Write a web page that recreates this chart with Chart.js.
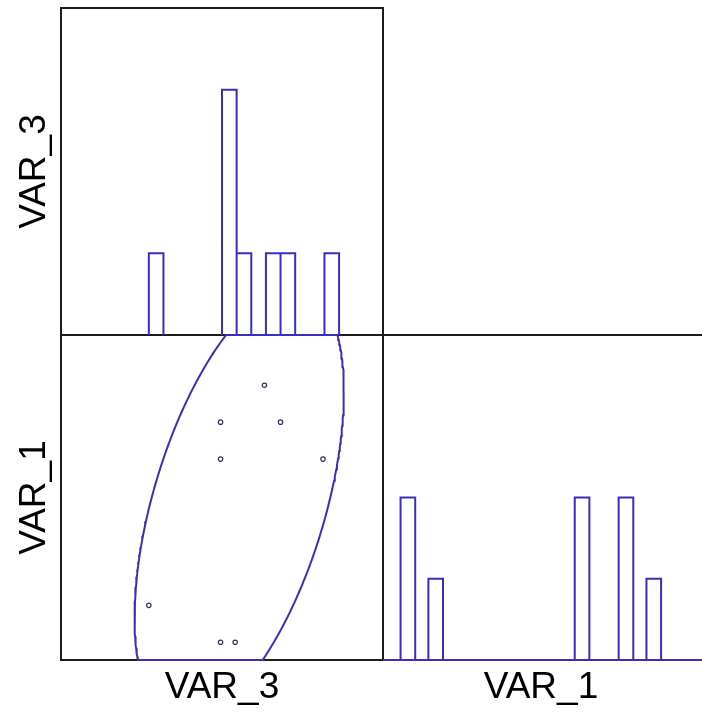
<!DOCTYPE html>
<html>
<head>
<meta charset="utf-8">
<script src="https://cdn.jsdelivr.net/npm/chart.js@4.4.0/dist/chart.umd.min.js"></script>
<style>
  html, body { margin: 0; padding: 0; background: #fff; }
  #wrap { position: relative; width: 702px; height: 714px; }
</style>
</head>
<body>
<div id="wrap"><canvas id="myChart" width="702" height="714"></canvas></div>
<script>
// values (no ticks in the original, so units are
// arbitrary: each panel runs 0..22 along a variable, 0..4 for counts)
const var3 = [6.0, 10.9, 10.9, 10.9, 11.9, 13.9, 15.0, 17.9];
const var1 = [3.7, 16.1, 13.6, 1.2, 1.2, 18.6, 16.1, 13.6];

// histogram bins: left edge of each bar and its count
const var3BinStart = [6, 11, 12, 14, 15, 18];
const var3Counts = [1, 3, 1, 1, 1, 1];
const var1BinStart = [1.2, 3.1, 13.1, 16.1, 18.0];
const var1Counts = [2, 1, 2, 2, 1];
const binWidth = 1;

const varLabels = ['VAR_3', 'VAR_1'];

const varRange = 22;     // panel span in variable units
const countRange = 4;    // histogram panel height in counts
const ellipseSize = 2.03; // size of the ellipse

const blue = '#3a2ebe';
const frameColor = '#1c1c1c';

// panel edges in pixels (left col, split, right col) / (top, split, bottom)
const colEdges = [61, 383, 705];
const rowEdges = [8, 335, 660];
const W = 702, H = 714;

// histogram outline: bars with no bottom, separated by gaps
function histPoints(starts, counts) {
    let pts = [];
    starts.forEach((s, i) => {
        pts.push({x: s, y: 0}, {x: s, y: counts[i]},
                 {x: s + binWidth, y: counts[i]}, {x: s + binWidth, y: 0},
                 {x: s + binWidth, y: null});
    });
    return pts;
}

// concentration ellipse from the mean and covariance of the points,
// clipped to the panel like the original
function ellipsePoints() {
    const n = var3.length;
    const mx = var3.reduce((a, b) => a + b) / n;
    const my = var1.reduce((a, b) => a + b) / n;
    let sxx = 0, syy = 0, sxy = 0;
    for (let i = 0; i < n; i++) {
        sxx += (var3[i] - mx) ** 2;
        syy += (var1[i] - my) ** 2;
        sxy += (var3[i] - mx) * (var1[i] - my);
    }
    sxx /= n - 1; syy /= n - 1; sxy /= n - 1;
    const a = Math.sqrt(sxx), b = sxy / a, c = Math.sqrt(syy - b * b);
    let poly = [];
    for (let i = 0; i < 360; i++) {
        const t = i / 360 * 2 * Math.PI;
        poly.push({x: mx + ellipseSize * a * Math.cos(t),
                   y: my + ellipseSize * (b * Math.cos(t) + c * Math.sin(t))});
    }
    // Sutherland-Hodgman against the panel box
    const edges = [
        [p => p.x >= 0, (p, q) => (0 - p.x) / (q.x - p.x)],
        [p => p.x <= varRange, (p, q) => (varRange - p.x) / (q.x - p.x)],
        [p => p.y >= 0, (p, q) => (0 - p.y) / (q.y - p.y)],
        [p => p.y <= varRange, (p, q) => (varRange - p.y) / (q.y - p.y)]
    ];
    edges.forEach(([inside, cut]) => {
        const out = [];
        for (let i = 0; i < poly.length; i++) {
            const p = poly[i], q = poly[(i + 1) % poly.length];
            const pin = inside(p), qin = inside(q);
            if (pin) out.push(p);
            if (pin !== qin) {
                const t = cut(p, q);
                out.push({x: p.x + t * (q.x - p.x), y: p.y + t * (q.y - p.y)});
            }
        }
        poly = out;
    });
    poly.push(poly[0]);
    return poly;
}

// scale limits so each panel sits in its own part of one chart area
const spanX = (colEdges[1] - colEdges[0]);
const pxPerUnit = spanX / varRange;
const x3Max = (W - colEdges[0]) / pxPerUnit;
const topH = rowEdges[1] - rowEdges[0];
const botH = rowEdges[2] - rowEdges[1];
const allH = rowEdges[2] - rowEdges[0];

const framePlugin = {
    id: 'frame',
    beforeDatasetsDraw(chart) {
        const ctx = chart.ctx;
        const s = chart.scales;
        const x0 = s.x3.getPixelForValue(0), xm = s.x3.getPixelForValue(varRange);
        const xr = s.x1.getPixelForValue(varRange);
        const y0 = s.yH3.getPixelForValue(countRange), ym = s.yH3.getPixelForValue(0);
        const yb = s.yV1.getPixelForValue(0);
        ctx.save();
        ctx.strokeStyle = frameColor;
        ctx.lineWidth = 2;
        ctx.strokeRect(x0, y0, xm - x0, ym - y0);
        ctx.strokeRect(x0, ym, xm - x0, yb - ym);
        ctx.strokeRect(xm, ym, xr - xm, yb - ym);
        ctx.restore();
    },
    afterDraw(chart) {
        const ctx = chart.ctx;
        const s = chart.scales;
        const cx = [(s.x3.getPixelForValue(0) + s.x3.getPixelForValue(varRange)) / 2,
                    (s.x1.getPixelForValue(0) + s.x1.getPixelForValue(varRange)) / 2];
        const cy = [(s.yH3.getPixelForValue(0) + s.yH3.getPixelForValue(countRange)) / 2,
                    (s.yV1.getPixelForValue(0) + s.yV1.getPixelForValue(varRange)) / 2];
        ctx.save();
        ctx.fillStyle = '#000';
        ctx.font = '37px "Liberation Sans", Arial, sans-serif';
        ctx.textAlign = 'center';
        ctx.textBaseline = 'middle';
        varLabels.forEach((lab, i) => {
            ctx.fillText(lab, cx[i] - 3 * i, 688);
            ctx.save();
            ctx.translate(35, cy[i]);
            ctx.rotate(-Math.PI / 2);
            ctx.fillText(lab, 0, 0);
            ctx.restore();
        });
        ctx.restore();
    }
};

const ctx = document.getElementById('myChart');
const myChart = new Chart(ctx, {
    type: 'scatter',
    data: {
        datasets: [
            {
                label: 'VAR_3 histogram',
                data: histPoints(var3BinStart, var3Counts),
                xAxisID: 'x3', yAxisID: 'yH3',
                showLine: true, spanGaps: false, pointRadius: 0,
                borderColor: blue, borderWidth: 2, clip: 3
            },
            {
                label: 'VAR_1 histogram',
                data: histPoints(var1BinStart, var1Counts),
                xAxisID: 'x1', yAxisID: 'yH1',
                showLine: true, spanGaps: false, pointRadius: 0,
                borderColor: blue, borderWidth: 2, clip: 3
            },
            {
                label: 'VAR_1 baseline',
                data: [{x: 0, y: 0}, {x: varRange, y: 0}],
                xAxisID: 'x1', yAxisID: 'yH1',
                showLine: true, pointRadius: 0,
                borderColor: blue, borderWidth: 2, clip: 3
            },
            {
                label: 'ellipse',
                data: ellipsePoints(),
                xAxisID: 'x3', yAxisID: 'yV1',
                showLine: true, pointRadius: 0, tension: 0,
                borderColor: blue, borderWidth: 2, clip: 3
            },
            {
                label: 'VAR_3 vs VAR_1',
                data: var3.map((v, i) => ({x: v, y: var1[i]})),
                xAxisID: 'x3', yAxisID: 'yV1',
                pointStyle: 'circle', pointRadius: 2.2, borderWidth: 1.2,
                borderColor: '#34345e', backgroundColor: 'rgba(0,0,0,0)'
            }
        ]
    },
    options: {
        responsive: false,
        animation: false,
        layout: {
            autoPadding: false,
            padding: {left: colEdges[0], top: rowEdges[0], right: 0, bottom: H - rowEdges[2]}
        },
        plugins: {
            legend: {display: false},
            tooltip: {enabled: false}
        },
        scales: {
            x3: {type: 'linear', display: false, min: 0, max: x3Max},
            x1: {type: 'linear', display: false, min: -varRange, max: x3Max - varRange},
            yH3: {type: 'linear', display: false, min: -countRange * botH / topH, max: countRange},
            yV1: {type: 'linear', display: false, min: 0, max: varRange * allH / botH},
            yH1: {type: 'linear', display: false, min: 0, max: countRange * allH / botH}
        }
    },
    plugins: [framePlugin]
});
</script>
</body>
</html>
